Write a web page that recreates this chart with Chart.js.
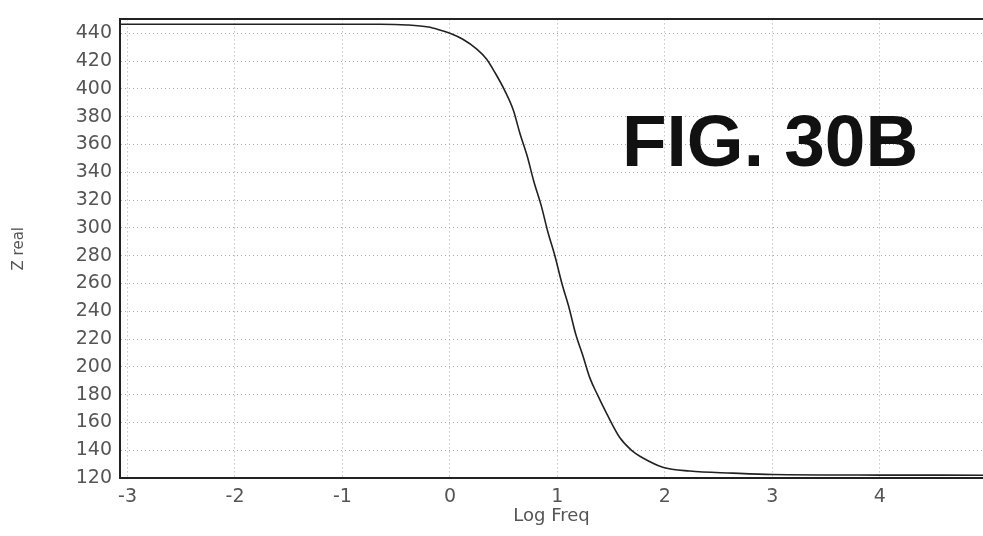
<!DOCTYPE html>
<html>
<head>
<meta charset="utf-8">
<script src="https://cdn.jsdelivr.net/npm/chart.js@4"></script>
<style>
  html, body { margin: 0; padding: 0; background: #fff; }
  #wrap { width: 983px; height: 536px; }
</style>
</head>
<body>
<div id="wrap"><canvas id="myChart" width="983" height="536"></canvas></div>
<script>
// curve: log frequency vs real impedance
const logFreq = [-3.07, -2, -1, -0.65, -0.4, -0.2, -0.1, 0, 0.12, 0.25, 0.34, 0.42, 0.51, 0.59, 0.65,
    0.72, 0.78, 0.85, 0.91, 0.98, 1.04, 1.11, 1.17, 1.24, 1.3, 1.37, 1.46, 1.58, 1.69, 1.8, 1.98,
    2.23, 2.63, 3.0, 4.0, 4.96];
const zReal = [446.5, 446.5, 446.5, 446.5, 446, 444.5, 442.5, 440, 435.7, 428.6, 421.5, 411.6, 398.8, 384.6, 368.3,
    351.3, 333.6, 315.8, 297.4, 278.9, 260.5, 242, 223.6, 207.3, 192.4, 180.3, 166.1, 149.1, 139.9, 134.2, 127.8,
    125, 123.5, 122.5, 122.1, 122];

const xRange = [-3.07, 4.96];
const yRange = [120, 450];
const xTickStep = 1;
const yTickStep = 20;
const figLabel = 'FIG. 30B';

const tickFont = { family: 'DejaVu Sans', size: 19 };
const gridStyle = { color: '#aaa', lineWidth: 1 };
// in v4 border.dash styles the grid lines, the axis line itself stays solid
const borderStyle = { display: true, color: '#222', width: 2, dash: [1, 3] };

const figText = {
    id: 'figText',
    afterDraw(chart) {
        const ctx = chart.ctx;
        ctx.save();
        ctx.font = 'bold 73px "Liberation Sans", Arial, sans-serif';
        ctx.fillStyle = '#111';
        ctx.textBaseline = 'alphabetic';
        ctx.fillText(figLabel, 622, 166);
        ctx.restore();
    }
};

const points = logFreq.map((x, i) => ({ x: x, y: zReal[i] }));

new Chart(document.getElementById('myChart'), {
    type: 'line',
    data: {
        datasets: [{
            data: points,
            borderColor: '#222',
            borderWidth: 1.6,
            pointRadius: 0,
            cubicInterpolationMode: 'monotone',
            fill: false
        }]
    },
    options: {
        responsive: false,
        animation: false,
        layout: { padding: 0 },
        plugins: {
            legend: { display: false },
            tooltip: { enabled: false }
        },
        scales: {
            x: {
                type: 'linear',
                position: 'bottom',
                min: xRange[0],
                max: xRange[1],
                ticks: {
                    stepSize: xTickStep,
                    includeBounds: false,
                    color: '#555',
                    font: tickFont,
                    padding: 8,
                    maxRotation: 0
                },
                grid: { ...gridStyle, drawTicks: false },
                border: borderStyle,
                title: {
                    display: true,
                    text: 'Log Freq',
                    color: '#555',
                    font: { family: 'DejaVu Sans', size: 18 },
                    padding: { top: 0, bottom: 9 }
                },
                afterFit(scale) { scale.height = 58; }
            },
            x2: {
                type: 'linear',
                position: 'top',
                min: xRange[0],
                max: xRange[1],
                ticks: { display: false },
                grid: { display: true, drawOnChartArea: false, drawTicks: false },
                border: borderStyle,
                afterFit(scale) { scale.height = 13; }
            },
            y: {
                type: 'linear',
                min: yRange[0],
                max: yRange[1],
                ticks: {
                    stepSize: yTickStep,
                    includeBounds: false,
                    color: '#555',
                    font: tickFont,
                    padding: 8
                },
                grid: { ...gridStyle, drawTicks: false },
                border: borderStyle,
                title: {
                    display: true,
                    text: 'Z real',
                    color: '#555',
                    font: { family: 'DejaVu Sans', size: 15 },
                    padding: { top: 10, bottom: 0 }
                },
                afterFit(scale) { scale.width = 120; }
            }
        }
    },
    plugins: [figText]
});
</script>
</body>
</html>
